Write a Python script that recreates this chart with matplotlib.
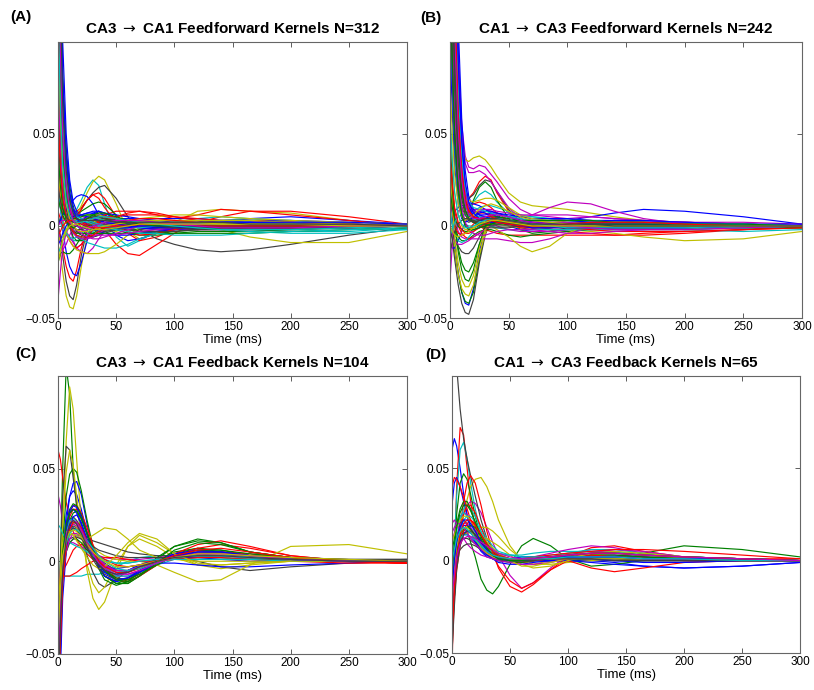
import numpy as np
import matplotlib.pyplot as plt

plt.rcParams['font.family'] = ['Liberation Sans', 'DejaVu Sans']
plt.rcParams['axes.linewidth'] = 0.8
plt.rcParams['mathtext.fontset'] = 'dejavusans'

t_ms = [0, 2, 4, 7, 10, 13, 16, 20, 25, 30, 35, 40, 50, 60, 70, 85, 100, 120, 140, 165, 200, 250, 300]

# kernel amplitudes, in units of 1e-3, one row per kernel (MATLAB colour order b g r c m y k)
ff_ca3_ca1 = [
    [220, 120, 65, 32, 16, 8, 4, 2, 2, 3, 4, 4, 3, 2, 1, 1, 2, 3, 3, 2, 2, 1, 0],
    [10, 12, 10, 6, 2, -2, -6, -8, -7, -5, -3, -2, 0, 1, 2, 2, 1, 0, -1, -1, -1, -1, 0],
    [0, -5, -12, -22, -28, -30, -24, -12, -2, 4, 6, 5, 2, 0, -1, -1, 0, 1, 1, 1, 0, 0, 0],
    [90, 50, 28, 14, 8, 6, 9, 14, 21, 25, 22, 12, -6, -11, -8, -3, 0, 2, 2, 1, 0, 0, 0],
    [150, 80, 40, 14, 0, -8, -12, -10, -5, 0, 2, 3, 2, 1, 0, -1, -1, -2, -2, -2, -1, -1, 0],
    [-10, -15, -25, -38, -44, -45, -38, -22, -6, 4, 8, 6, 1, -2, -3, -2, 0, 2, 3, 3, 2, 1, 0],
    [0, -6, -16, -30, -38, -40, -32, -16, -2, 6, 8, 5, 0, -2, -2, -1, 0, 1, 1, 0, 0, 0, 0],
    [20, 10, -2, -14, -22, -26, -27, -20, -8, 2, 6, 6, 3, 0, -1, -1, 0, 1, 1, 1, 0, 0, 0],
    [250, 140, 80, 42, 22, 11, 4, -1, -5, -6, -5, -3, -1, 1, 2, 2, 1, 0, 0, 0, 0, 0, 0],
    [120, 65, 35, 16, 9, 7, 8, 10, 14, 17, 18, 15, 5, -4, -8, -6, -2, 1, 2, 1, 1, 0, 0],
    [5, 2, -2, -5, -7, -8, -8, -7, -5, -3, -1, 0, 1, 2, 2, 1, 1, 0, -1, -2, -3, -3, -1],
    [40, 15, 4, -3, -6, -9, -12, -14, -15, -12, -7, -3, 1, 2, 2, 1, 0, 0, 0, 0, 0, 0, 0],
    [90, 45, 22, 10, 5, 4, 6, 11, 18, 24, 27, 25, 12, -3, -7, -4, 2, 8, 9, 8, 7, 3, 0],
    [110, 60, 30, 12, 5, 4, 5, 9, 14, 18, 21, 22, 15, 5, -2, -7, -10, -13, -14, -13, -10, -5, -1],
    [30, 12, 6, 8, 11, 14, 16, 17, 16, 12, 6, 1, -5, -8, -7, -4, -1, 1, 2, 2, 1, 0, 0],
    [-20, -15, -14, -15, -15, -13, -10, -6, -2, 1, 2, 2, 1, 0, 0, 0, 0, 0, 0, 0, 0, 0, 0],
    [200, 110, 55, 24, 10, 5, 3, 3, 4, 4, 2, -2, -10, -15, -16, -10, -4, 2, 5, 8, 8, 5, 1],
    [180, 95, 50, 22, 9, 3, 0, -2, -3, -4, -4, -3, -2, -1, 0, 1, 2, 4, 5, 4, 2, -1, -2],
    [0, -10, -13, -10, -5, -1, 2, 4, 5, 5, 4, 3, 1, 0, -1, -2, -2, -2, -1, 0, 0, 0, 0],
    [150, 80, 40, 17, 7, 3, 1, 2, 3, 2, 0, -2, -3, -1, 1, 2, 2, 0, -2, -6, -9, -9, -3],
    [90, 45, 20, 6, -1, -4, -3, -1, 1, 2, 3, 3, 2, 1, 0, 0, 1, 1, 1, 1, 0, 0, 0],
    [230, 130, 75, 38, 18, 9, 4, 3, 5, 7, 8, 7, 4, 1, -1, -2, -2, -1, 2, 4, 5, 3, 1],
    [100, 55, 28, 10, 0, -6, -8, -8, -6, -4, -2, -1, -2, -4, -5, -5, -4, -3, -3, -3, -2, -1, 0],
    [8, 4, 0, -4, -8, -11, -12, -10, -6, -2, 3, 6, 8, 8, 8, 6, 4, 6, 9, 8, 6, 3, 0],
    [150, 80, 40, 15, 4, -2, -5, -7, -9, -10, -11, -12, -12, -10, -7, -4, -2, 1, 3, 4, 3, 1, 0],
    [-40, -25, -12, -4, 0, 3, 5, 6, 6, 5, 3, 1, -1, -2, -3, -3, -2, -2, -1, -1, 0, 0, 0],
    [15, 10, 4, -3, -8, -11, -13, -14, -15, -15, -15, -14, -10, -5, -1, 1, 2, 1, 0, 0, 0, 0, 0],
    [0, 4, 7, 8, 8, 6, 4, 2, 0, -2, -3, -3, -2, -1, 0, 0, 0, 0, 0, 0, 0, 0, 0],
    [300, 170, 100, 50, 25, 13, 8, 6, 7, 7, 6, 5, 4, 4, 4, 4, 4, 4, 3, 3, 3, 2, 1],
    [70, 38, 20, 9, 5, 4, 6, 8, 10, 12, 13, 12, 6, 0, -3, -4, -3, -2, -1, 0, 0, 0, 0],
    [240, 130, 70, 32, 14, 6, 3, 3, 4, 5, 5, 5, 5, 6, 6, 6, 5, 3, 2, 2, 2, 1, 0],
    [25, 10, 2, -4, -6, -7, -6, -4, -2, 0, 1, 2, 2, 2, 1, 1, 0, -1, -2, -3, -4, -4, -2],
    [130, 70, 35, 13, 3, -2, -4, -3, -2, -1, 0, 1, 2, 2, 2, 1, 1, 0, 0, -1, -1, -1, 0],
    [200, 110, 60, 30, 15, 9, 7, 6, 6, 5, 4, 3, 3, 3, 4, 5, 6, 6, 5, 4, 3, 2, 1],
    [140, 75, 38, 15, 5, 0, -3, -5, -6, -6, -5, -4, -2, 0, 1, 1, 1, 0, 0, 0, 0, 0, 0],
    [0, 3, 6, 9, 10, 9, 7, 4, 1, -1, -3, -4, -5, -5, -4, -3, -2, -1, 0, 1, 1, 1, 0],
    [280, 150, 80, 36, 15, 5, 0, -1, 0, 1, 2, 3, 3, 2, 1, 0, -1, -1, -1, -1, -1, 0, 0],
    [35, 15, 5, 2, 2, 3, 5, 9, 14, 17, 15, 10, 2, -3, -5, -4, -2, 0, 1, 1, 1, 0, 0],
    [210, 115, 60, 26, 11, 6, 5, 6, 6, 5, 4, 3, 2, 2, 2, 2, 2, 2, 2, 2, 1, 1, 0],
    [80, 42, 20, 6, -1, -4, -6, -7, -7, -6, -4, -2, 0, 1, 1, 1, 1, 1, 0, 0, 0, 0, 0],
    [-5, -8, -6, -2, 2, 5, 6, 6, 5, 3, 1, 0, -1, -1, -1, 0, 0, 0, 0, 0, 0, 0, 0],
    [170, 90, 45, 20, 9, 4, 3, 3, 3, 2, 1, 0, -1, -2, -3, -3, -3, -2, -2, -1, -1, 0, 0],
    [180, 100, 52, 24, 11, 6, 5, 6, 7, 8, 8, 7, 6, 5, 4, 3, 2, 2, 2, 2, 1, 1, 0],
    [15, 10, 6, 2, -1, -3, -4, -4, -4, -4, -4, -4, -4, -4, -4, -4, -4, -4, -4, -4, -3, -2, -1],
    [160, 90, 48, 22, 10, 5, 3, 2, 1, 1, 2, 3, 5, 7, 8, 7, 5, 4, 3, 3, 2, 1, 0],
    [-15, -12, -8, -3, 0, 2, 3, 3, 2, 1, 0, -1, -2, -3, -4, -4, -5, -5, -5, -4, -3, -2, -1],
    [200, 110, 60, 28, 12, 5, 1, -2, -4, -5, -5, -5, -5, -4, -3, -2, -1, 0, 0, 0, 0, 0, 0],
    [30, 18, 10, 5, 3, 3, 4, 5, 6, 6, 6, 5, 4, 3, 3, 3, 3, 3, 3, 3, 2, 1, 0],
    [50, 28, 14, 5, 1, -1, -2, -2, -1, 0, 1, 1, 1, 0, 0, -1, -1, -1, -1, -1, -1, 0, 0],
    [-10, -8, -4, 0, 3, 5, 6, 6, 5, 4, 3, 2, 1, 0, -1, -1, -1, 0, 1, 2, 2, 2, 1],
    [140, 75, 38, 16, 7, 4, 4, 5, 6, 6, 5, 4, 2, 1, 1, 1, 1, 1, 1, 1, 1, 0, 0],
    [60, 32, 15, 5, 0, -3, -5, -6, -6, -5, -3, -1, 1, 3, 4, 4, 3, 2, 1, 1, 0, 0, 0],
    [190, 105, 56, 26, 12, 7, 5, 4, 3, 2, 1, 0, -1, -1, -1, 0, 1, 1, 1, 1, 1, 0, 0],
    [0, 2, 3, 3, 2, 0, -2, -4, -6, -7, -7, -6, -4, -2, 0, 1, 1, 1, 0, 0, 0, 0, 0],
    [110, 60, 30, 12, 4, 0, -2, -3, -3, -2, -1, 0, 1, 2, 2, 2, 2, 2, 1, 1, 0, 0, 0],
    [20, 14, 9, 5, 3, 2, 2, 3, 4, 5, 5, 4, 3, 2, 1, 0, -1, -2, -2, -2, -2, -1, 0],
    [260, 145, 80, 38, 18, 9, 4, 1, -1, -2, -2, -2, -1, -1, 0, 0, 0, 0, 0, 0, 0, 0, 0],
    [40, 22, 10, 3, 0, -1, 0, 2, 4, 6, 7, 7, 5, 3, 1, 0, 0, 0, 0, 0, 0, 0, 0],
    [-5, -3, 0, 2, 3, 3, 2, 1, 0, -1, -1, -1, 0, 0, 1, 1, 1, 0, 0, 0, 0, 0, 0],
    [120, 65, 33, 14, 6, 3, 2, 2, 3, 4, 5, 5, 4, 3, 2, 1, 0, -1, -2, -2, -2, -1, 0],
    [170, 95, 50, 22, 9, 3, 0, -1, -1, 0, 1, 2, 3, 3, 3, 2, 1, 0, -1, -1, -1, 0, 0],
    [-20, -14, -8, -3, 0, 1, 1, 0, -1, -2, -2, -2, -1, 0, 1, 1, 1, 1, 1, 1, 1, 0, 0],
    [230, 125, 66, 30, 14, 7, 4, 3, 3, 3, 3, 3, 2, 2, 2, 2, 2, 2, 2, 1, 1, 1, 0],
]

ff_ca1_ca3 = [
    [20, 5, -10, -25, -36, -42, -43, -34, -14, 0, 6, 6, 2, -1, -2, -1, 0, 1, 1, 1, 0, 0, 0],
    [0, -6, -14, -26, -36, -41, -42, -36, -18, -4, 3, 5, 3, 0, -1, -1, 0, 0, 0, 0, 0, 0, 0],
    [300, 200, 120, 60, 30, 18, 15, 18, 24, 27, 25, 18, 8, 2, -1, -2, -3, -4, -5, -5, -4, -2, 0],
    [200, 130, 75, 35, 16, 10, 10, 13, 17, 19, 17, 13, 7, 3, 2, 2, 2, 1, 1, 0, 0, 0, 0],
    [400, 280, 170, 95, 55, 38, 32, 31, 33, 32, 28, 24, 15, 9, 6, 5, 4, 3, 2, 2, 1, 1, 0],
    [350, 240, 150, 80, 48, 36, 35, 37, 38, 36, 32, 27, 18, 13, 11, 10, 9, 7, 5, 3, 2, 1, 0],
    [0, -8, -18, -32, -42, -47, -48, -40, -20, -5, 3, 5, 3, 1, 0, 0, 0, 0, 0, 0, 0, 0, 0],
    [250, 160, 95, 45, 20, 9, 4, 2, 1, 2, 2, 2, 1, 0, 0, 1, 3, 5, 7, 9, 8, 5, 1],
    [40, 15, 0, -12, -20, -24, -25, -20, -10, -2, 2, 3, 2, 1, 0, 0, 0, 0, 0, 0, 0, 0, 0],
    [350, 230, 140, 70, 36, 20, 12, 8, 7, 7, 6, 5, 3, 2, 1, 0, -1, -2, -2, -2, -2, -1, 0],
    [220, 140, 80, 38, 18, 10, 8, 8, 10, 11, 11, 10, 8, 6, 5, 4, 3, 2, 2, 1, 0, -1, -1],
    [300, 200, 120, 60, 30, 17, 11, 9, 9, 9, 8, 7, 5, 4, 6, 10, 13, 12, 8, 4, 1, 0, 0],
    [10, 0, -12, -26, -34, -37, -38, -32, -16, -4, 2, 4, 3, 1, 0, 0, 0, 0, 0, 0, 0, 0, 0],
    [260, 170, 100, 50, 25, 16, 15, 17, 22, 25, 24, 19, 9, 2, -1, -2, -2, -1, 0, 0, 0, 0, 0],
    [-10, -12, -12, -8, -3, 2, 5, 7, 8, 7, 5, 3, 0, -2, -3, -3, -2, -1, 0, 0, 0, 0, 0],
    [160, 100, 55, 24, 10, 6, 8, 14, 21, 24, 21, 14, 4, -2, -4, -3, -1, 0, 1, 1, 0, 0, 0],
    [450, 300, 180, 90, 45, 22, 10, 3, 0, -2, -3, -4, -5, -5, -5, -5, -5, -5, -5, -4, -3, -2, -1],
    [120, 75, 40, 16, 5, 1, 0, 0, 1, 2, 3, 4, 5, 5, 5, 4, 3, 2, 1, 0, -2, -3, -2],
    [380, 260, 160, 90, 50, 34, 29, 29, 30, 28, 24, 19, 10, 4, 2, 3, 4, 5, 4, 3, 2, 1, 0],
    [240, 160, 95, 45, 20, 9, 4, 3, 3, 3, 2, 1, 0, -1, -1, -2, -2, -3, -4, -6, -8, -7, -3],
    [0, -3, -7, -11, -14, -15, -15, -12, -6, -1, 2, 2, 1, 0, 0, 0, 0, 0, 0, 0, 0, 0, 0],
    [500, 340, 210, 110, 58, 30, 16, 9, 6, 6, 7, 7, 6, 5, 4, 4, 4, 3, 3, 2, 2, 1, 0],
    [30, 10, 0, -6, -8, -8, -7, -5, -3, -2, -2, -3, -5, -6, -5, -4, -3, -2, -1, -1, -1, 0, 0],
    [250, 160, 95, 45, 22, 13, 11, 12, 13, 12, 10, 7, 3, 1, 0, 0, 0, 0, 0, 0, 0, 0, 0],
    [320, 210, 130, 65, 32, 17, 10, 7, 5, 4, 4, 3, 2, 1, 1, 1, 2, 2, 2, 2, 1, 1, 0],
    [50, 20, 5, -3, -6, -7, -7, -7, -7, -7, -7, -7, -8, -9, -9, -7, -4, -1, 1, 1, 1, 0, 0],
    [200, 130, 75, 35, 15, 6, 3, 2, 2, 1, 0, -2, -6, -11, -14, -11, -4, 1, 2, 2, 1, 0, 0],
    [160, 100, 55, 22, 7, 1, -1, -1, 0, 1, 2, 2, 2, 1, 1, 1, 0, 0, 0, 0, 0, 0, 0],
    [0, 4, 8, 10, 11, 11, 12, 12, 11, 9, 7, 5, 2, 0, -1, -1, 0, 0, 0, 0, 0, 0, 0],
    [280, 190, 115, 58, 28, 14, 7, 4, 4, 5, 5, 5, 4, 3, 2, 2, 1, 1, 1, 0, 0, -1, -1],
    [60, 25, 8, 0, -4, -6, -7, -6, -4, -2, 0, 1, 2, 2, 1, 0, 0, 0, 0, 0, 0, 0, 0],
    [10, 0, -5, -8, -9, -8, -6, -3, 0, 2, 3, 3, 2, 1, 0, 0, 0, -1, -1, -1, -1, -1, 0],
    [-30, -10, 2, 8, 10, 10, 9, 8, 6, 4, 2, 0, -2, -3, -3, -3, -2, -1, 0, 1, 2, 2, 1],
    [330, 220, 135, 70, 36, 20, 14, 13, 14, 15, 15, 14, 10, 6, 4, 3, 2, 2, 1, 1, 0, 0, 0],
    [220, 145, 85, 40, 18, 8, 4, 2, 2, 2, 2, 2, 1, 1, 1, 0, 0, 0, 0, 0, 0, 0, 0],
    [400, 270, 165, 85, 43, 22, 11, 5, 3, 3, 3, 3, 3, 3, 3, 3, 3, 2, 2, 2, 1, 1, 1],
    [50, 20, 2, -14, -24, -29, -30, -24, -10, 0, 4, 4, 2, 0, 0, 0, 0, 0, 0, 0, 0, 0, 0],
    [20, 8, 0, -4, -5, -4, -2, 1, 4, 5, 5, 4, 1, -1, -1, 0, 1, 1, 1, 0, 0, 0, 0],
    [280, 185, 110, 55, 27, 13, 7, 5, 5, 5, 4, 4, 3, 2, 1, 0, -1, -2, -2, -2, -2, -1, 0],
    [0, -4, -8, -10, -10, -9, -8, -6, -4, -2, 0, 1, 2, 2, 2, 2, 2, 1, 1, 1, 1, 0, 0],
    [30, 10, -6, -20, -29, -33, -33, -27, -12, -2, 3, 4, 2, 0, 0, 0, 0, 0, 0, 0, 0, 0, 0],
    [130, 80, 45, 18, 7, 3, 2, 3, 4, 4, 4, 3, 2, 1, 0, 0, 0, 0, 0, 0, 0, 0, 0],
    [380, 250, 150, 75, 38, 20, 12, 8, 6, 5, 4, 3, 2, 1, 1, 1, 1, 1, 1, 1, 0, 0, 0],
    [20, 10, 4, 0, -2, -3, -3, -2, -1, 0, 1, 2, 2, 2, 1, 1, 0, 0, -1, -1, -1, -1, 0],
    [270, 180, 110, 55, 27, 14, 8, 5, 4, 4, 4, 3, 2, 1, 0, -1, -1, -1, -1, -1, -1, 0, 0],
    [-5, -2, 2, 5, 6, 6, 5, 4, 2, 1, 0, -1, -2, -2, -2, -2, -2, -2, -2, -2, -1, -1, 0],
    [330, 220, 135, 68, 34, 18, 11, 8, 8, 9, 9, 8, 7, 6, 6, 6, 6, 5, 4, 3, 2, 1, 0],
    [60, 35, 18, 6, 0, -2, -2, -1, 1, 3, 4, 4, 3, 2, 1, 0, 0, 0, 0, 0, 0, 0, 0],
    [300, 200, 120, 60, 29, 14, 6, 2, 0, -1, -1, -1, -1, 0, 0, 0, 0, 0, 0, 0, 0, 0, 0],
    [100, 60, 32, 12, 4, 2, 3, 5, 7, 8, 8, 7, 5, 3, 2, 1, 1, 2, 3, 3, 2, 1, 0],
    [240, 160, 95, 45, 20, 9, 4, 2, 1, 1, 1, 1, 1, 1, 1, 1, 1, 1, 1, 1, 1, 0, 0],
    [40, 22, 10, 2, -2, -4, -4, -3, -1, 1, 2, 3, 3, 2, 1, 0, -1, -2, -3, -3, -3, -2, -1],
    [350, 235, 145, 74, 38, 21, 13, 10, 9, 8, 7, 6, 5, 4, 3, 3, 3, 3, 2, 2, 1, 1, 0],
    [180, 115, 65, 28, 10, 2, -2, -4, -5, -5, -4, -3, -2, -2, -2, -3, -4, -4, -3, -2, -1, 0, 0],
    [80, 50, 28, 12, 5, 3, 4, 6, 9, 11, 12, 11, 8, 5, 3, 2, 1, 0, 0, 0, 0, 0, 0],
    [-15, -8, -3, 1, 3, 4, 4, 3, 2, 1, 0, 0, 0, 0, 0, 0, 0, 0, 0, 0, 0, 0, 0],
    [420, 280, 175, 90, 46, 24, 13, 7, 4, 3, 2, 2, 1, 0, -1, -1, -1, -1, -1, -1, -1, 0, 0],
    [140, 90, 50, 20, 6, 0, -2, -2, -1, 0, 1, 2, 3, 3, 3, 3, 3, 3, 2, 2, 1, 1, 0],
    [310, 205, 125, 62, 30, 15, 8, 5, 4, 3, 3, 2, 1, 0, 0, 0, 1, 2, 2, 2, 1, 0, 0],
    [60, 35, 18, 6, 1, -1, -1, 0, 2, 3, 4, 4, 3, 2, 1, 0, -1, -1, -1, -1, -1, 0, 0],
    [260, 175, 105, 52, 25, 12, 6, 4, 4, 5, 6, 6, 5, 3, 2, 1, 0, -1, -2, -2, -2, -1, 0],
    [0, -3, -5, -6, -5, -4, -3, -1, 1, 2, 3, 3, 2, 1, 0, 0, 0, 0, 0, 0, 0, 0, 0],
    [200, 130, 75, 35, 15, 6, 3, 2, 3, 4, 4, 4, 3, 2, 1, 1, 1, 1, 0, 0, 0, 0, 0],
]

fb_ca3_ca1 = [
    [-80, -30, 5, 25, 35, 38, 36, 28, 15, 5, -2, -6, -8, -6, -3, 0, 2, 3, 3, 2, 1, 0, 0],
    [-55, 0, 50, 105, 90, 50, 30, 18, 10, 5, 0, -4, -10, -12, -8, -2, 4, 7, 5, 3, 1, 0, 0],
    [60, 55, 45, 32, 22, 16, 12, 8, 4, 1, -1, -3, -5, -5, -3, 0, 2, 3, 2, 1, 0, 0, -1],
    [-40, -20, -8, -8, -8, -8, -8, -8, -7, -7, -7, -6, -3, 0, 2, 3, 3, 3, 2, 1, 1, 0, 0],
    [36, 30, 20, 12, 10, 12, 14, 14, 10, 5, 0, -4, -8, -8, -5, -1, 3, 5, 5, 3, 1, 0, 0],
    [-70, -25, 15, 65, 94, 82, 55, 20, -5, -20, -26, -22, -5, 8, 12, 8, 2, -2, -2, -1, 0, 0, 0],
    [-50, 0, 35, 62, 60, 45, 30, 15, 3, -6, -12, -14, -10, -5, -2, 0, 2, 0, -3, -5, -3, -1, 0],
    [-90, -40, -5, 20, 35, 42, 43, 36, 20, 6, -3, -8, -11, -9, -5, 0, 3, 4, 3, 2, 1, 0, 0],
    [-80, -30, 10, 35, 47, 50, 48, 38, 22, 8, -2, -8, -12, -10, -6, 0, 5, 7, 6, 3, 1, 0, 0],
    [-60, -25, 0, 15, 24, 28, 28, 24, 16, 8, 2, -3, -9, -10, -7, -2, 3, 7, 9, 7, 3, 0, -1],
    [-50, -30, -10, 5, 15, 20, 21, 18, 12, 6, 1, -3, -8, -8, -6, -2, 1, 3, 3, 2, 1, 0, 0],
    [-40, -15, 5, 15, 20, 21, 20, 16, 10, 5, 1, -2, -5, -5, -3, 1, 4, 6, 5, 3, 1, 0, 0],
    [-50, -10, 20, 48, 60, 52, 35, 14, -2, -12, -17, -14, -2, 8, 14, 10, 4, -2, -4, -2, 0, 0, 0],
    [-30, -10, 5, 14, 18, 19, 18, 16, 13, 11, 10, 9, 7, 5, 4, 3, 3, 3, 3, 3, 2, 1, 1],
    [-45, -20, -2, 10, 16, 18, 17, 13, 7, 2, -1, -3, -4, -3, -2, -1, -1, -2, -3, -3, -2, -1, 0],
    [-70, -35, -8, 12, 22, 26, 27, 23, 14, 5, -3, -8, -12, -12, -8, 1, 8, 12, 10, 5, 2, 0, 0],
    [-55, -15, 5, 18, 26, 30, 30, 26, 18, 9, 2, -4, -10, -11, -8, -2, 4, 9, 11, 8, 3, 0, -1],
    [-30, -10, 2, 10, 14, 15, 14, 12, 9, 6, 3, 1, -1, -1, 0, 1, 2, 2, 2, 1, 1, 0, 0],
    [-20, -5, 4, 8, 10, 10, 9, 8, 6, 4, 3, 2, 1, 1, 1, 2, 3, 3, 3, 2, 1, 0, 0],
    [-40, -10, 8, 18, 22, 21, 18, 14, 10, 7, 5, 3, 1, 0, 0, -2, -6, -11, -10, -2, 8, 9, 4],
    [-60, -25, 0, 15, 22, 24, 22, 18, 12, 6, 2, -1, -5, -5, -3, 0, 2, 4, 4, 3, 2, 1, 1],
    [-100, -50, -10, 15, 26, 28, 26, 20, 10, 3, -2, -5, -7, -5, -2, 1, 2, 2, 1, 0, 0, 0, 0],
    [-90, -40, -5, 18, 28, 31, 30, 25, 15, 5, -4, -10, -13, -11, -6, 2, 8, 11, 10, 5, 2, 0, 0],
    [-20, -10, -5, -2, 2, 6, 8, 9, 8, 6, 3, 1, -2, -3, -2, 0, 2, 4, 5, 4, 2, 0, -1],
    [-80, -30, 0, 15, 22, 23, 21, 17, 10, 4, -1, -4, -6, -5, -3, 0, 2, 3, 3, 2, 1, 0, 0],
    [-50, -20, 0, 12, 18, 20, 19, 16, 11, 6, 2, -2, -6, -7, -5, -1, 3, 5, 5, 3, 1, 0, 0],
    [-60, -20, 0, 10, 14, 15, 14, 12, 12, 14, 16, 18, 17, 12, 6, 2, 1, 0, 0, 0, 0, 0, 0],
    [-40, -15, 0, 8, 12, 13, 13, 12, 10, 8, 6, 5, 3, 2, 2, 2, 2, 1, 1, 1, 1, 0, 0],
    [-110, -60, -20, 5, 18, 24, 25, 21, 12, 4, -3, -8, -11, -9, -5, 0, 4, 6, 5, 3, 1, 0, 0],
    [-50, -20, -5, 5, 10, 12, 12, 10, 6, 2, -2, -5, -9, -10, -7, -2, 3, 6, 6, 4, 2, 0, 0],
    [-30, -15, -8, -8, -8, -7, -6, -4, -2, 0, 1, 2, 2, 1, 0, 0, 1, 2, 2, 1, 0, -1, -1],
    [20, 18, 15, 12, 10, 9, 8, 7, 5, 3, 1, 0, -1, -1, 0, 1, 1, 1, 1, 1, 0, 0, 0],
    [-60, -30, -8, 5, 12, 15, 15, 13, 9, 5, 1, -2, -5, -5, -3, 0, 3, 4, 4, 3, 1, 0, 0],
    [-30, -5, 10, 16, 16, 14, 11, 7, 2, -2, -4, -3, 3, 10, 15, 12, 4, -1, -2, -1, 0, 0, 0],
    [-70, -30, -5, 10, 16, 18, 17, 13, 7, 1, -4, -7, -10, -9, -6, -1, 3, 5, 5, 3, 1, 0, 1],
    [-70, -30, 0, 18, 27, 30, 29, 24, 15, 6, -1, -6, -10, -9, -6, -1, 3, 5, 5, 3, 1, 0, 0],
    [-60, -20, 5, 20, 26, 28, 27, 23, 15, 7, 0, -5, -10, -11, -8, -1, 6, 10, 9, 5, 2, 0, 0],
    [-90, -45, -12, 8, 17, 21, 21, 18, 11, 5, 0, -3, -6, -6, -4, 0, 3, 6, 7, 5, 2, 0, -1],
    [-50, -20, 0, 10, 15, 17, 17, 15, 11, 7, 3, 0, -4, -5, -4, -1, 2, 3, 3, 2, 1, 0, 0],
    [-60, -25, 0, 14, 20, 22, 21, 17, 10, 4, -1, -4, -7, -7, -5, -1, 2, 4, 4, 3, 1, 0, 0],
    [-40, -15, 3, 12, 16, 17, 16, 13, 9, 5, 2, 0, -3, -3, -2, 0, 2, 4, 4, 3, 2, 1, 0],
    [-80, -35, -5, 12, 20, 22, 20, 15, 8, 2, -2, -5, -7, -6, -3, 0, 2, 3, 3, 2, 1, 0, 0],
]

fb_ca1_ca3 = [
    [60, 66, 62, 50, 36, 25, 17, 10, 5, 2, 1, 0, 0, 0, 0, 0, 0, 0, -1, -3, -4, -3, -1],
    [-30, -10, 5, 15, 18, 16, 10, 2, -10, -16, -18, -14, -2, 8, 12, 8, 1, -3, -2, 0, 1, 1, 0],
    [-60, 0, 40, 72, 68, 50, 32, 18, 8, 4, 2, 1, 0, 0, 1, 1, 1, 1, 1, 1, 1, 1, 1],
    [-20, 10, 35, 60, 64, 55, 42, 28, 15, 8, 4, 2, 1, 1, 1, 1, 2, 3, 3, 2, 1, 0, 0],
    [-10, 0, 10, 20, 26, 30, 32, 31, 26, 18, 10, 3, -8, -15, -12, -4, 3, 6, 5, 2, 1, 0, 0],
    [-40, -20, 0, 15, 25, 33, 40, 44, 45, 40, 32, 22, 8, 0, -2, 0, 2, 2, 1, 0, 0, 0, 0],
    [180, 140, 105, 82, 66, 55, 46, 35, 22, 12, 6, 3, 1, 0, 0, 0, 0, 0, 0, 0, 0, 0, 0],
    [30, 42, 45, 40, 32, 24, 18, 12, 7, 4, 2, 1, 0, 0, 0, 0, 0, 0, 0, 0, 0, 0, 0],
    [-20, 5, 25, 42, 47, 44, 36, 24, 12, 5, 2, 1, 0, 0, 0, 0, 0, 1, 2, 4, 8, 6, 2],
    [-30, -15, 0, 18, 32, 42, 46, 42, 30, 16, 5, -4, -14, -17, -13, -5, 2, 7, 8, 5, 2, 1, 0],
    [-15, 0, 12, 22, 28, 30, 28, 24, 18, 12, 8, 5, 3, 2, 2, 3, 4, 5, 5, 3, 2, 1, 0],
    [10, 15, 20, 24, 26, 25, 22, 17, 11, 6, 3, 1, 0, 0, 1, 2, 3, 3, 3, 2, 1, 1, 0],
    [0, 4, 8, 12, 14, 15, 16, 17, 18, 18, 16, 13, 6, 1, -2, -2, -1, 0, 1, 1, 1, 0, 0],
    [-10, 2, 12, 20, 22, 20, 16, 11, 6, 3, 1, 0, 0, 0, 0, 1, 1, 1, 1, 1, 1, 0, 0],
    [-25, -5, 8, 16, 19, 19, 17, 13, 8, 4, 2, 1, 0, 0, 0, 0, 0, -1, -2, -3, -4, -3, -1],
    [5, 12, 20, 28, 32, 32, 28, 20, 11, 5, 2, 0, -1, -1, 0, 1, 2, 2, 2, 1, 1, 0, 0],
    [-50, -20, 0, 15, 25, 30, 30, 26, 18, 10, 3, -3, -11, -15, -12, -5, 0, -4, -6, -4, -1, 0, 0],
    [0, 8, 16, 24, 26, 24, 20, 15, 10, 6, 4, 3, 3, 3, 4, 5, 5, 5, 4, 3, 2, 1, 0],
    [-5, 5, 12, 18, 20, 20, 18, 14, 9, 5, 2, 1, 0, 1, 2, 4, 6, 8, 7, 4, 2, 1, 0],
    [-30, -10, 2, 10, 14, 15, 15, 14, 13, 12, 10, 8, 3, -2, -4, -3, 0, 3, 4, 3, 1, 0, 0],
    [-20, -5, 5, 10, 12, 12, 11, 9, 6, 4, 2, 1, 1, 1, 1, 1, 1, 2, 2, 2, 1, 1, 0],
    [-40, -15, 0, 10, 15, 16, 15, 12, 8, 4, 1, -1, -2, -2, -1, 0, 1, 1, 1, 1, 0, 0, 0],
    [-10, 0, 8, 14, 17, 18, 17, 14, 10, 6, 3, 1, 0, 0, 0, 1, 2, 3, 3, 2, 1, 0, 0],
    [40, 45, 44, 40, 34, 28, 22, 16, 10, 6, 3, 1, 0, -1, 0, 1, 2, 3, 2, 1, 0, 0, 0],
    [-30, -10, 5, 16, 22, 24, 24, 21, 16, 10, 6, 3, 1, 0, 1, 2, 4, 6, 6, 4, 2, 1, 0],
    [20, 22, 20, 16, 12, 9, 7, 5, 3, 2, 1, 0, -1, -2, -2, -1, 1, 4, 6, 5, 2, 1, 0],
    [10, 14, 18, 22, 24, 24, 22, 18, 14, 10, 7, 4, 0, -3, -3, -1, 1, 4, 5, 4, 2, 1, 0],
    [-15, -5, 2, 6, 8, 9, 9, 8, 6, 4, 3, 2, 1, 1, 1, 1, 1, 1, 1, 0, 0, 0, 0],
    [-35, -10, 5, 12, 14, 14, 13, 10, 6, 3, 2, 1, 1, 2, 2, 2, 2, 1, 0, -1, -1, 0, 0],
    [-20, -5, 5, 12, 16, 18, 19, 18, 14, 9, 5, 2, 0, -1, 0, 2, 3, 4, 4, 3, 2, 1, 0],
    [-45, -20, -5, 8, 16, 20, 22, 20, 14, 8, 4, 2, 1, 1, 2, 3, 4, 5, 6, 6, 5, 3, 1],
    [-5, 2, 8, 12, 14, 14, 13, 11, 8, 6, 5, 4, 3, 2, 2, 2, 3, 4, 4, 3, 2, 1, 0],
    [15, 18, 20, 20, 18, 15, 12, 9, 6, 4, 2, 1, 0, 0, 0, 1, 1, 2, 2, 1, 1, 0, 0],
    [-25, -5, 8, 15, 18, 18, 16, 12, 7, 4, 2, 1, 0, 0, 1, 1, 1, 1, 1, 1, 1, 0, 0],
    [-50, -25, -5, 8, 14, 16, 16, 14, 10, 6, 3, 1, 0, 0, 0, 1, 1, 1, 0, 0, 0, 0, 0],
    [-15, 0, 10, 18, 22, 22, 20, 16, 10, 6, 3, 1, 0, 0, 1, 2, 2, 2, 2, 1, 1, 1, 0],
    [-5, 8, 18, 26, 30, 30, 27, 21, 13, 7, 3, 1, 0, 0, 1, 2, 3, 4, 4, 3, 2, 1, 0],
    [-40, -15, 2, 14, 20, 22, 22, 19, 14, 9, 5, 3, 1, 1, 1, 2, 3, 4, 4, 3, 2, 1, 0],
    [0, 6, 12, 16, 18, 17, 15, 12, 8, 5, 3, 2, 1, 1, 1, 1, 2, 2, 2, 1, 1, 0, 0],
    [-20, -8, 2, 9, 12, 13, 13, 12, 10, 8, 6, 4, 2, 1, 1, 2, 3, 4, 4, 3, 2, 1, 0],
]

titles = [
    r'CA3 $\rightarrow$ CA1 Feedforward Kernels N=312',
    r'CA1 $\rightarrow$ CA3 Feedforward Kernels N=242',
    r'CA3 $\rightarrow$ CA1 Feedback Kernels N=104',
    r'CA1 $\rightarrow$ CA3 Feedback Kernels N=65',
]
letters = ['(A)', '(B)', '(C)', '(D)']
x_ticks = [0, 50, 100, 150, 200, 250, 300]
y_ticks = [-0.05, 0, 0.05]

# old MATLAB line colour order
matlab_colors = [(0, 0, 1), (0, 0.5, 0), (1, 0, 0), (0, 0.75, 0.75),
                 (0.75, 0, 0.75), (0.75, 0.75, 0), (0.25, 0.25, 0.25)]


def ytick_fmt(v, _):
    if abs(v) < 1e-12:
        return '0'
    return ('%g' % v).replace('-', '\u2212')


fig = plt.figure(figsize=(8.14, 6.90), dpi=100)
positions = [
    [0.0713, 0.5391, 0.4287, 0.4000],
    [0.5528, 0.5391, 0.4324, 0.4000],
    [0.0713, 0.0522, 0.4287, 0.4029],
    [0.5553, 0.0536, 0.4275, 0.4015],
]
letter_xy = [(0.013, 0.975), (0.516, 0.974), (0.019, 0.487), (0.523, 0.486)]

for i, kernels in enumerate([ff_ca3_ca1, ff_ca1_ca3, fb_ca3_ca1, fb_ca1_ca3]):
    ax = fig.add_axes(positions[i])
    ax.set_prop_cycle(color=matlab_colors)
    for k in kernels:
        ax.plot(t_ms, np.array(k) * 1e-3, lw=0.85)
    ax.set_xlim(0, 300)
    ax.set_ylim(-0.05, 0.0999)
    ax.set_xticks(x_ticks)
    ax.set_yticks(y_ticks)
    ax.yaxis.set_major_formatter(plt.FuncFormatter(ytick_fmt))
    ax.tick_params(direction='in', length=3.5, width=0.6, top=True, right=True,
                   labelsize=8.5, pad=2, color='#444444')
    for s in ax.spines.values():
        s.set_color('#666666')
    ax.set_xlabel('Time (ms)', fontsize=9.5, labelpad=1)
    ax.set_title(titles[i], fontsize=11, fontweight='bold', pad=6.5)
    fig.text(letter_xy[i][0], letter_xy[i][1], letters[i], fontsize=11,
             fontweight='bold', va='center', ha='left')

plt.savefig('out.png', dpi=100)
